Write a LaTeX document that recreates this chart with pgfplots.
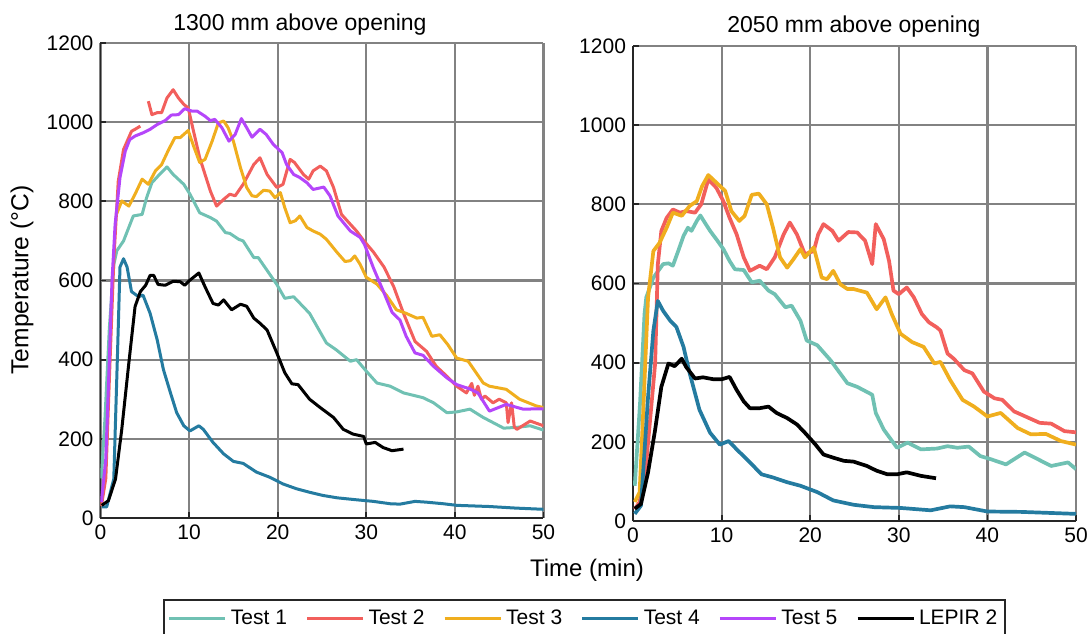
\documentclass[border=0pt]{standalone}
\usepackage{fontspec}
\setmainfont{Liberation Sans}
\usepackage{pgfplots}
\pgfplotsset{compat=1.18}

\definecolor{cA}{RGB}{112,193,179}
\definecolor{cB}{RGB}{242,95,92}
\definecolor{cC}{RGB}{240,174,30}
\definecolor{cD}{RGB}{36,123,160}
\definecolor{cE}{RGB}{181,70,250}
\definecolor{gridc}{RGB}{130,130,130}
\definecolor{axc}{RGB}{38,38,38}

\pgfplotsset{
  tempaxis/.style={
    scale only axis,
    width=221.5pt, height=237.5pt,
    xmin=0, xmax=50, ymin=0, ymax=1200,
    xtick={0,10,...,50}, ytick={0,200,...,1200},
    axis x line*=bottom, axis y line*=left,
    axis line style={axc, line width=0.9pt, -},
    grid=major,
    major grid style={gridc, line width=1.1pt},
    tick style={axc, line width=0.9pt},
    tick align=inside,
    major tick length=3pt,
    tick label style={font=\fontsize{10.5}{12}\selectfont, text=black},
    /pgf/number format/assume math mode=true,
    /pgf/number format/1000 sep={},
    unbounded coords=jump,
    every axis plot/.append style={line join=round},
  },
}

\begin{document}
\begin{tikzpicture}
\path[use as bounding box] (0,0) rectangle (546pt,316.5pt);

% ---------------- left: 1300 mm ----------------
\begin{axis}[tempaxis,
  at={(50.25pt,57.5pt)}, anchor=south west,
  every axis plot/.append style={line width=1.5pt},
  legend columns=6,
  legend style={at={(0.1411,-0.1705)}, anchor=north west,
    draw=axc, line width=0.9pt, inner xsep=2pt, inner ysep=3pt,
    font=\fontsize{10.5}{12}\selectfont,
    /tikz/every even column/.append style={column sep=7.3pt}},
  legend image code/.code={\draw[#1] (0pt,0pt) -- (28pt,0pt);},
]
% Test 1
\addplot[cA] coordinates {
(0.1,100) (0.5,250) (1.0,480) (1.5,640) (1.84,675) (2.6,700) (3.7,763) (4.7,767)
(5.2,809) (5.8,847) (6.5,864) (7.5,887) (8.2,868) (9.4,843) (10.1,818) (11.2,771)
(12.4,759) (13.1,750) (14.1,721) (14.6,719) (15.6,704) (16.1,700) (17.3,658)
(17.8,658) (19.9,590) (20.8,555) (21.8,559) (23.6,517) (25.5,442) (26.6,425)
(28.2,396) (28.9,400) (30,371) (31.2,341) (32.7,333) (34.2,316) (36.4,304)
(37.6,291) (39.1,266) (40.2,268) (41.7,275) (43.2,254) (45.5,227) (47,229)
(48.5,233) (50,222)
};
\addlegendentry{Test 1}
% Test 2
\addplot[cB] coordinates {
(0.1,30) (0.6,100) (1.0,350) (1.5,650) (2.0,850) (2.6,931) (3.5,977) (3.9,982)
(4.5,990) (5.0,nan) (5.4,1053) (5.8,1019) (6.4,1024) (6.9,1024) (7.5,1061)
(8.2,1082) (8.8,1061) (9.4,1045) (9.9,1036) (10.5,977) (11.2,910) (12.4,826)
(13.1,788) (13.9,805) (14.6,818) (15.2,814) (16.1,843) (17.3,893) (18,910)
(18.8,868) (19.9,835) (20.6,843) (21.4,906) (21.9,898) (22.9,868) (23.5,856)
(24,877) (24.8,889) (25.5,877) (26.3,835) (27.2,767) (28.2,742) (28.9,725)
(29.7,701) (30.8,672) (32,634) (33.1,584) (34.2,517) (35.5,446) (36.8,421)
(37.9,383) (39.1,358) (40.2,333) (41.3,316) (41.9,340) (42.2,310) (42.6,333)
(43.0,300) (43.4,308) (44.3,291) (45.0,300) (45.8,291) (46.0,241) (46.4,291)
(46.7,230) (47,224) (48.5,245) (50,233)
};
\addlegendentry{Test 2}
% Test 3
\addplot[cC] coordinates {
(1.8,767) (2.4,801) (3.2,788) (3.9,818) (4.7,856) (5.4,843) (6.2,877) (6.9,893)
(7.7,931) (8.4,961) (9,961) (9.9,979) (10.5,940) (11.2,898) (11.8,906) (12.6,952)
(13.3,998) (13.9,1003) (14.4,986) (15,952) (15.8,885) (16.5,835) (17.1,814)
(17.6,812) (18.4,828) (19.1,826) (19.7,809) (20.3,822) (20.8,784) (21.4,746)
(22,751) (22.5,763) (23.3,734) (24,725) (24.8,717) (25.5,704) (26.7,671)
(27.6,648) (28.2,650) (28.7,662) (29.3,641) (30,608) (31.2,591) (32.3,562)
(33.4,526) (34.5,517) (35.7,505) (36.4,507) (37.4,459) (38.3,463) (39.2,438)
(40.2,404) (41.5,396) (43.2,341) (43.9,333) (45.8,325) (47.3,300) (49.2,283)
(50,279)
};
\addlegendentry{Test 3}
% Test 4
\addplot[cD] coordinates {
(0.15,28) (0.7,28) (1.5,99) (1.9,400) (2.2,634) (2.6,655) (3,634) (3.5,572)
(4.3,559) (4.8,563) (5.6,517) (6.4,450) (7.1,375) (7.9,316) (8.6,266) (9.4,233)
(10.1,220) (11.1,233) (11.6,224) (12.7,191) (13.9,162) (15,143) (16.1,138)
(17.6,116) (19.1,103) (20.6,86) (22.1,74) (23.6,65) (25.1,57) (26.7,51)
(28.9,46) (30.8,42) (32.7,36) (33.8,35) (35.5,42) (36.8,40) (38.7,36) (40.2,32)
(43.9,29) (46.9,25) (50,22)
};
\addlegendentry{Test 4}
% Test 5
\addplot[cE] coordinates {
(0.1,40) (0.6,150) (1.0,400) (1.3,600) (1.65,742) (2.2,860) (2.8,927) (3.3,956)
(3.9,965) (4.8,973) (5.6,982) (6.4,994) (7.3,1004) (8,1018) (8.8,1019)
(9.5,1034) (10.3,1028) (10.9,1028) (11.8,1015) (12.4,1004) (12.9,1007)
(13.7,986) (14.5,952) (15.2,969) (15.9,1009) (16.5,986) (17.1,962) (18,982)
(18.7,969) (19.5,944) (20.5,923) (21,893) (21.8,868) (22.5,860) (23.3,847)
(24,830) (25.2,836) (25.9,814) (26.8,763) (28.2,725) (29.3,709) (29.8,691)
(30.8,632) (31.9,574) (32.9,520) (33.8,500) (34.5,459) (35.5,417) (36.4,411)
(37.6,383) (39.1,354) (40.2,337) (41.7,326) (42.6,316) (43.9,270) (45.8,287)
(47.7,275) (50,276)
};
\addlegendentry{Test 5}
% LEPIR 2
\addplot[black] coordinates {
(0.15,32) (0.9,44) (1.7,99) (2.4,224) (3.2,392) (3.9,534) (4.5,572) (5.1,588)
(5.6,613) (6,613) (6.5,590) (7.3,588) (8.2,598) (9,597) (9.5,588) (10.1,601)
(11.1,619) (11.8,584) (12.7,542) (13.3,538) (13.9,551) (14.8,526) (15.8,540)
(16.5,535) (17.3,505) (18,492) (18.8,475) (19.9,417) (20.8,367) (21.6,339)
(22.3,337) (23.6,300) (24.8,279) (26.3,254) (27.4,224) (28.5,212) (29.7,206)
(30,187) (31,191) (31.9,178) (32.9,170) (34.2,174)
};
\addlegendentry{LEPIR 2}
\end{axis}

% ---------------- right: 2050 mm ----------------
\begin{axis}[tempaxis,
  at={(316.5pt,56pt)}, anchor=south west,
  every axis plot/.append style={line width=1.85pt},
]
% Test 1
\addplot[cA] coordinates {
(0.2,89) (0.8,300) (1.3,523) (1.5,565) (2.3,615) (3.4,649) (4,651) (4.5,645)
(5.1,682) (5.7,720) (6.2,741) (6.6,733) (7.2,758) (7.6,772) (8.1,754) (8.7,733)
(9.4,712) (10.2,687) (10.9,657) (11.5,636) (12.5,634) (13.4,603) (14.3,607)
(15.3,582) (16,573) (17.2,540) (17.9,544) (18.9,506) (19.6,456) (20.8,444)
(22.3,406) (24.2,348) (25.3,339) (27,319) (27.4,273) (28.3,231) (29.8,185)
(31,198) (32.5,181) (34.3,183) (35.5,189) (36.6,185) (37.9,188) (39.2,164)
(40.4,156) (42.1,143) (44.2,173) (45.7,156) (47.2,139) (49.1,148) (50,131)
};
% Test 2
\addplot[cB] coordinates {
(0.2,30) (0.75,48) (1.5,148) (2.5,398) (2.8,648) (3.2,733) (3.8,766) (4.5,787)
(5.3,779) (6,783) (7,779) (7.7,800) (8.5,863) (9.4,842) (10.2,808) (10.9,766)
(11.7,724) (12.5,666) (13.2,632) (14.3,645) (15.1,636) (16,666) (17,724)
(17.7,754) (18.5,724) (19.4,674) (20.4,682) (20.9,724) (21.5,750) (22.5,733)
(23.2,708) (24.3,730) (25.3,729) (26.2,708) (27,649) (27.4,750) (28.3,712)
(28.9,657) (29.4,582) (30,573) (30.9,590) (31.7,565) (32.6,523) (33.4,502)
(34.3,489) (34.7,481) (35.5,423) (36.2,410) (37.4,381) (38.3,373) (39.6,327)
(40.8,310) (41.7,306) (43,277) (44.3,264) (45.9,248) (47.2,246) (48.7,227)
(50,224)
};
% Test 3
\addplot[cC] coordinates {
(0.2,48) (0.75,73) (1.2,300) (1.7,565) (2.3,682) (3,703) (3.8,741) (4.5,779)
(5.5,771) (6.4,796) (7.2,808) (7.8,846) (8.5,874) (9.4,855) (10.4,834)
(11.1,783) (12,758) (12.6,771) (13.4,824) (14.2,827) (15.1,800) (15.8,741)
(16.6,666) (17.4,640) (18.1,661) (18.9,687) (19.4,666) (20.4,691) (21.3,615)
(21.9,611) (22.6,632) (23.4,598) (24.2,586) (24.9,586) (26.4,577) (27.5,535)
(28.5,565) (29.2,523) (30.2,473) (31.5,452) (32.8,440) (34,398) (34.7,402)
(35.8,356) (37.2,306) (38.5,289) (40,264) (41.5,273) (43.4,235) (44.9,219)
(46.6,220) (48.3,202) (50,193)
};
% Test 4
\addplot[cD] coordinates {
(0.2,18) (0.9,39) (1.7,314) (2.3,481) (2.8,556) (3.4,531) (4.2,506) (4.9,490)
(5.7,440) (6.4,373) (7.5,281) (8.7,223) (9.8,193) (10.8,202) (11.7,181)
(13.2,148) (14.5,118) (15.8,110) (17.4,98) (18.9,89) (20.8,73) (22.6,52)
(24.9,41) (27.2,35) (30.2,33) (33.6,27) (35.8,37) (37.4,35) (40,24) (43.8,23)
(50,18)
};
% LEPIR 2
\addplot[black] coordinates {
(0.2,31) (0.9,43) (1.7,123) (2.5,231) (3.2,339) (4,398) (4.7,391) (5.5,410)
(6,389) (7,360) (7.9,363) (9.1,358) (10,358) (10.9,364) (11.7,331) (12.5,302)
(13.2,285) (14.3,285) (15.3,289) (16.2,273) (17.4,260) (18.5,244) (19.4,223)
(20.6,193) (21.5,168) (22.6,160) (23.8,152) (24.9,150) (26.4,139) (27.5,127)
(28.7,118) (29.8,118) (30.9,123) (32.5,114) (34.2,108)
};
\end{axis}

% titles and shared labels
\node[font=\fontsize{11.5}{13}\selectfont] at (150pt,304pt) {1300 mm above opening};
\node[font=\fontsize{11.5}{13}\selectfont] at (427pt,303pt) {2050 mm above opening};
\node[font=\fontsize{12}{14}\selectfont] at (293.5pt,31.5pt) {Time (min)};
\node[font=\fontsize{12.3}{14}\selectfont, rotate=90] at (11pt,176.5pt) {Temperature (°C)};
\end{tikzpicture}
\end{document}
